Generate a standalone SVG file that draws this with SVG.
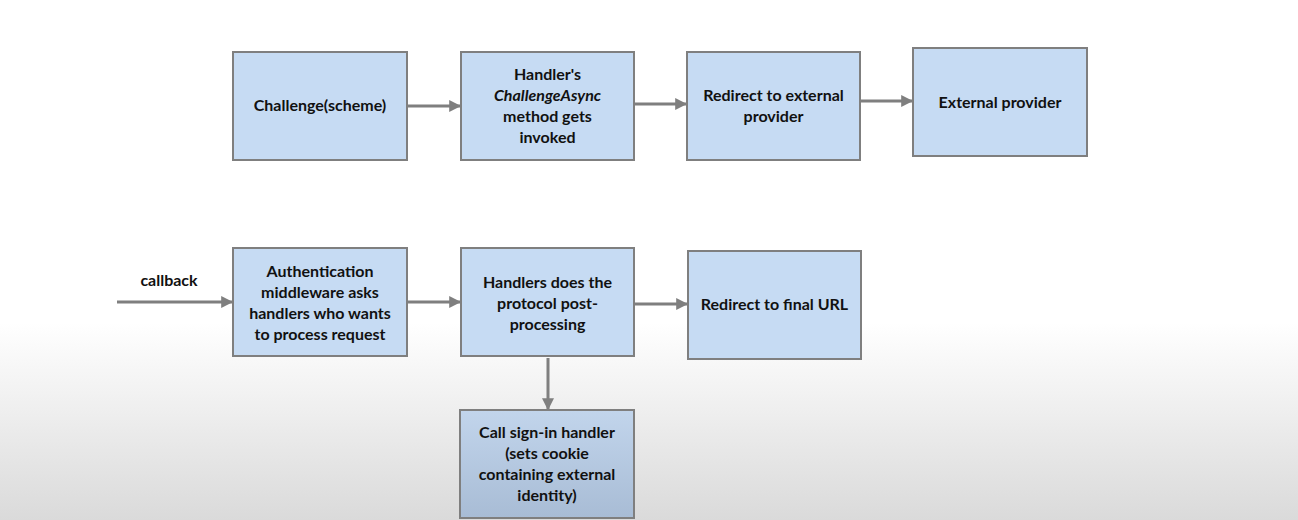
<svg xmlns="http://www.w3.org/2000/svg" width="1298" height="520" viewBox="0 0 1298 520">
<defs>
<linearGradient id="bg" x1="0" y1="0" x2="0" y2="1">
<stop offset="0" stop-color="#ffffff"/>
<stop offset="0.62" stop-color="#ffffff"/>
<stop offset="1" stop-color="#dadada"/>
</linearGradient>
<linearGradient id="dark" x1="0" y1="0" x2="0" y2="1">
<stop offset="0" stop-color="#c2d5ec"/>
<stop offset="1" stop-color="#a8bcd5"/>
</linearGradient>
<marker id="arr" viewBox="0 0 10 10" refX="9" refY="5" markerWidth="4" markerHeight="4" orient="auto" markerUnits="strokeWidth">
<path d="M0,0 L10,5 L0,10 z" fill="#7f7f7f"/>
</marker>
<style>
.box{fill:#c6dbf3;stroke:#7f7f7f;stroke-width:2}
.t{font-family:Lato,"Liberation Sans",sans-serif;font-weight:700;font-size:16px;fill:#111;text-anchor:middle}
.c{stroke:#7f7f7f;stroke-width:3;fill:none;marker-end:url(#arr)}
</style>
</defs>
<rect x="0" y="0" width="1298" height="520" fill="url(#bg)"/>
<g id="connectors">
<line class="c" x1="408" y1="106" x2="460" y2="106"/>
<line class="c" x1="635" y1="104" x2="686" y2="104"/>
<line class="c" x1="861" y1="101" x2="912" y2="101"/>
<line class="c" x1="117" y1="302" x2="232" y2="302"/>
<line class="c" x1="408" y1="302" x2="460" y2="302"/>
<line class="c" x1="635" y1="304" x2="687" y2="304"/>
<line class="c" x1="548" y1="358" x2="548" y2="409"/>
<text class="t" x="169" y="286">callback</text>
</g>
<g id="challenge">
<rect class="box" x="233" y="52" width="174" height="108"/>
<text class="t" x="320" y="111">Challenge(scheme)</text>
</g>
<g id="handler-challenge">
<rect class="box" x="461" y="52" width="173" height="108"/>
<text class="t" x="547.5" y="80">Handler's</text>
<text class="t" x="547.5" y="101" font-style="italic">ChallengeAsync</text>
<text class="t" x="547.5" y="122">method gets</text>
<text class="t" x="547.5" y="143">invoked</text>
</g>
<g id="redirect-external">
<rect class="box" x="687" y="52" width="173" height="108"/>
<text class="t" x="773.5" y="101">Redirect to external</text>
<text class="t" x="773.5" y="122">provider</text>
</g>
<g id="external-provider">
<rect class="box" x="913" y="48" width="174" height="108"/>
<text class="t" x="1000" y="108">External provider</text>
</g>
<g id="auth-middleware">
<rect class="box" x="233" y="248" width="174" height="108"/>
<text class="t" x="320" y="277">Authentication</text>
<text class="t" x="320" y="298">middleware asks</text>
<text class="t" x="320" y="319">handlers who wants</text>
<text class="t" x="320" y="340">to process request</text>
</g>
<g id="post-processing">
<rect class="box" x="461" y="248" width="173" height="108"/>
<text class="t" x="547.5" y="288">Handlers does the</text>
<text class="t" x="547.5" y="309">protocol post-</text>
<text class="t" x="547.5" y="330">processing</text>
</g>
<g id="redirect-final">
<rect class="box" x="688" y="251" width="173" height="108"/>
<text class="t" x="774.5" y="310">Redirect to final URL</text>
</g>
<g id="sign-in">
<rect class="box" x="460" y="410" width="174" height="108" style="fill:url(#dark)"/>
<text class="t" x="547" y="438">Call sign-in handler</text>
<text class="t" x="547" y="459">(sets cookie</text>
<text class="t" x="547" y="480">containing external</text>
<text class="t" x="547" y="501">identity)</text>
</g>
</svg>
